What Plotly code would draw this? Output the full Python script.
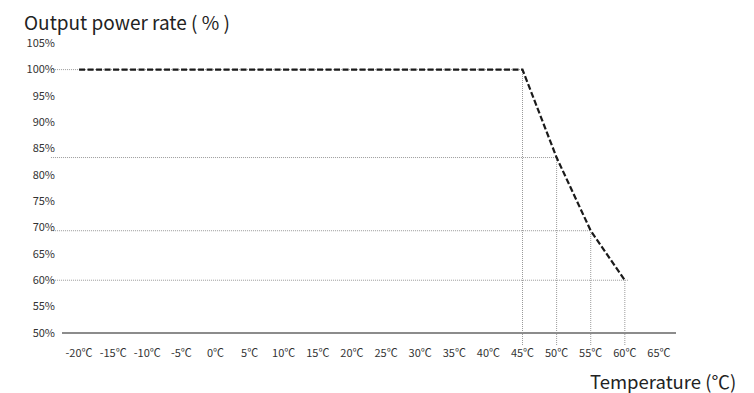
import plotly.graph_objects as go

# Data
temps = [-20, 45, 50, 55, 60]
power = [100, 100, 83.3, 69.4, 60]
x_ticks = list(range(-20, 70, 5))
x_tick_labels = [f"{t}℃" for t in x_ticks]
y_ticks = list(range(50, 110, 5))
y_tick_labels = [f"{v}%" for v in y_ticks]
ref_points_x = [45, 50, 55, 60]
ref_points_y = [100, 83.3, 69.4, 60]

FONT = "Noto Sans CJK SC"
GRID = "#9a9a9a"
X_MIN, X_MAX = -22.5, 67.5
Y_MIN, Y_MAX = 47.7, 106

fig = go.Figure()

# reference dotted lines
for xv, yv in zip(ref_points_x, ref_points_y):
    fig.add_shape(type="line", xref="paper", yref="y",
                  x0=-0.018, x1=(xv - X_MIN + (0.6 if xv == 60 else 0)) / (X_MAX - X_MIN),
                  y0=yv, y1=yv,
                  line=dict(color=GRID, width=1, dash="1px,1px"), layer="below")
    fig.add_shape(type="line", xref="x", yref="y",
                  x0=xv, x1=xv, y0=Y_MIN, y1=yv,
                  line=dict(color=GRID, width=1, dash="1px,1px"), layer="below")

# x axis baseline
fig.add_shape(type="line", xref="x", yref="y", x0=X_MIN, x1=X_MAX, y0=50, y1=50,
              line=dict(color="#8c8c8c", width=2), layer="below")

fig.add_trace(go.Scatter(
    x=temps, y=power, mode="lines",
    line=dict(color="#1a1a1a", width=2.2, dash="6px,2.5px"),
    hoverinfo="skip", showlegend=False,
))

fig.update_layout(
    width=746, height=385,
    margin=dict(l=54, r=78, t=30, b=48),
    plot_bgcolor="white", paper_bgcolor="white",
    font=dict(family=FONT, color="#333333", size=11),
    xaxis=dict(range=[X_MIN, X_MAX], tickmode="array", tickvals=x_ticks,
               ticktext=x_tick_labels, showgrid=False, zeroline=False,
               showline=False, ticks="", tickfont=dict(size=11, color="#333333")),
    yaxis=dict(range=[Y_MIN, Y_MAX], tickmode="array", tickvals=y_ticks,
               ticktext=y_tick_labels, showgrid=False, zeroline=False,
               showline=False, ticks="", ticklabelstandoff=6,
               tickfont=dict(size=11, color="#333333")),
    annotations=[
        dict(text="Output power rate ( % )", xref="paper", yref="paper",
             x=0, y=1, xanchor="left", yanchor="middle",
             showarrow=False, xshift=-39, yshift=17, borderpad=0,
             font=dict(size=19, family=FONT, color="#222222")),
        dict(text="Temperature (℃)", xref="paper", yref="paper",
             x=1, y=0, xanchor="right", yanchor="middle", showarrow=False,
             xshift=61, yshift=-36, borderpad=0,
             font=dict(size=18.5, family=FONT, color="#222222")),
    ],
)

fig.write_html("out.html")
